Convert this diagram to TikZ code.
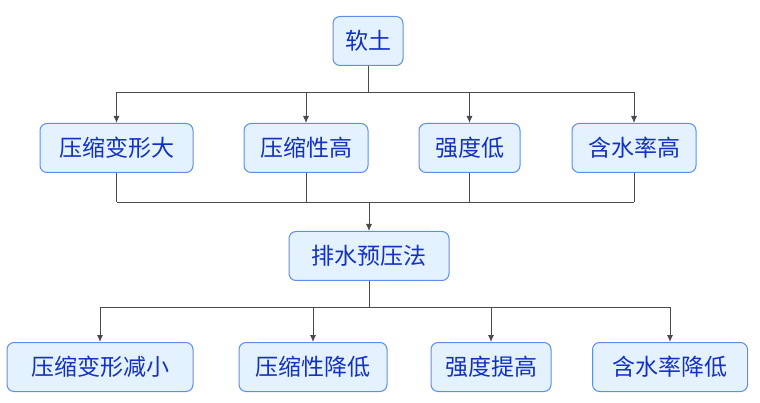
\documentclass[tikz,border=0pt]{standalone}
\usepackage{fontspec}
\newfontfamily\cjk{Noto Sans CJK SC}
\usetikzlibrary{positioning,arrows.meta}
\definecolor{boxfill}{HTML}{E4F2FF}
\definecolor{boxline}{HTML}{5C8EEE}
\definecolor{boxtext}{HTML}{1230C4}
\definecolor{linkgray}{HTML}{4A4A4A}
\tikzset{
  item/.style={draw=boxline, fill=boxfill, text=boxtext, rounded corners=7pt,
    line width=1pt, minimum height=49pt, inner sep=0pt,
    font=\cjk\fontsize{23}{25}\selectfont},
  link/.style={draw=linkgray, line width=0.9pt},
  arr/.style={link, -{Latex[length=7pt,width=6pt]}}
}
\begin{document}
\begin{tikzpicture}[x=1pt, y=-1pt]
    \useasboundingbox (0,0) rectangle (760,403);
    % top
    \node[item, minimum width=70pt] (soil) at (368,41) {软土};
    % properties
    \node[item, minimum width=153pt] (compA) at (116.5,148) {压缩变形大};
    \node[item, minimum width=124pt] (compB) at (306,148) {压缩性高};
    \node[item, minimum width=101pt] (strength) at (469.5,148) {强度低};
    \node[item, minimum width=124pt] (water) at (634,148) {含水率高};
    % method
    \node[item, minimum width=160pt] (method) at (369,256) {排水预压法};
    % results
    \node[item, minimum width=186pt] (resA) at (100,367) {压缩变形减小};
    \node[item, minimum width=148pt] (resB) at (313,367) {压缩性降低};
    \node[item, minimum width=120pt] (resC) at (491,367) {强度提高};
    \node[item, minimum width=155pt] (resD) at (670,367) {含水率降低};

    \coordinate (top) at (368,92);
    \coordinate (bot) at (368,202);
    \coordinate (split) at (368,307);

    \draw[link] (soil.south) -- (soil.south |- top);
    \draw[link] (compA.north |- top) -- (water.north |- top);
    \foreach \n in {compA,compB,strength,water}
        \draw[arr] (\n.north |- top) -- (\n.north);

    \foreach \n in {compA,compB,strength,water}
        \draw[link] (\n.south) -- (\n.south |- bot);
    \draw[link] (compA.south |- bot) -- (water.south |- bot);
    \draw[arr] (method.north |- bot) -- (method.north);

    \draw[link] (method.south) -- (method.south |- split);
    \draw[link] (resA.north |- split) -- (resD.north |- split);
    \foreach \n in {resA,resB,resC,resD}
        \draw[arr] (\n.north |- split) -- (\n.north);
\end{tikzpicture}
\end{document}
